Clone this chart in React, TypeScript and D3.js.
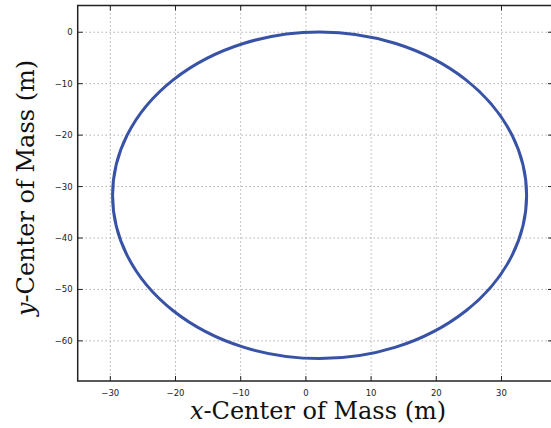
import React from "react";
import * as d3 from "d3";

const xTicks = [-30, -20, -10, 0, 10, 20, 30];
const yTicks = [0, -10, -20, -30, -40, -50, -60];
const xDomain = [-35, 37.9];
const yDomain = [-67.8, 5.2];
// trajectory: circle (centre x, centre y, radius)
const orbitCenterX = [2.1];
const orbitCenterY = [-31.7];
const orbitRadius = [31.75];

const W = 551;
const H = 428;
const left = 77.7;
const right = 553;
const top = 5.5;
const bottom = 381;

export default function App() {
  const x = d3.scaleLinear().domain(xDomain).range([left, right]);
  const y = d3.scaleLinear().domain(yDomain).range([bottom, top]);
  const fmt = (v: number) => (v < 0 ? "\u2212" + Math.abs(v) : String(v));
  const grid = "#8a8a8a";
  return (
    <div style={{ position: "fixed", left: 0, top: 0 }}>
      <svg width={W} height={H} style={{ display: "block", background: "#fff" }}>
        {xTicks.map((t) => (
          <line key={"gx" + t} x1={x(t)} x2={x(t)} y1={top} y2={bottom} stroke={grid} strokeWidth={1} strokeDasharray="1,3" />
        ))}
        {yTicks.map((t) => (
          <line key={"gy" + t} x1={left} x2={right} y1={y(t)} y2={y(t)} stroke={grid} strokeWidth={1} strokeDasharray="1,3" />
        ))}
        {orbitCenterX.map((cx, i) => (
          <ellipse
            key={"o" + i}
            cx={x(cx)}
            cy={y(orbitCenterY[i])}
            rx={x(cx + orbitRadius[i]) - x(cx)}
            ry={y(orbitCenterY[i]) - y(orbitCenterY[i] + orbitRadius[i])}
            fill="none"
            stroke="#3852a5"
            strokeWidth={3}
          />
        ))}
        {xTicks.map((t) => (
          <g key={"tx" + t}>
            <line x1={x(t)} x2={x(t)} y1={bottom} y2={bottom - 5} stroke="#222" strokeWidth={1} />
            <line x1={x(t)} x2={x(t)} y1={top} y2={top + 5} stroke="#222" strokeWidth={1} />
            <text x={x(t)} y={bottom + 15} textAnchor="middle" fontFamily="'DejaVu Sans', sans-serif" fontSize={8.5} fill="#222">
              {fmt(t)}
            </text>
          </g>
        ))}
        {yTicks.map((t) => (
          <g key={"ty" + t}>
            <line x1={left} x2={left + 5} y1={y(t)} y2={y(t)} stroke="#222" strokeWidth={1} />
            <line x1={right} x2={right - 5} y1={y(t)} y2={y(t)} stroke="#222" strokeWidth={1} />
            <text x={left - 5} y={y(t) + 3} textAnchor="end" fontFamily="'DejaVu Sans', sans-serif" fontSize={8.5} fill="#222">
              {fmt(t)}
            </text>
          </g>
        ))}
        <rect x={left} y={top} width={right - left} height={bottom - top} fill="none" stroke="#222" strokeWidth={1.5} />
        <text x={318} y={419} textAnchor="middle" fontFamily="'DejaVu Serif', serif" fontSize={24} fill="#111">
          <tspan fontStyle="italic">x</tspan>-Center of Mass (m)
        </text>
        <text
          transform={`translate(34, 188) rotate(-90)`}
          textAnchor="middle"
          fontFamily="'DejaVu Serif', serif"
          fontSize={24}
          fill="#111"
        >
          <tspan fontStyle="italic">y</tspan>-Center of Mass (m)
        </text>
      </svg>
    </div>
  );
}
